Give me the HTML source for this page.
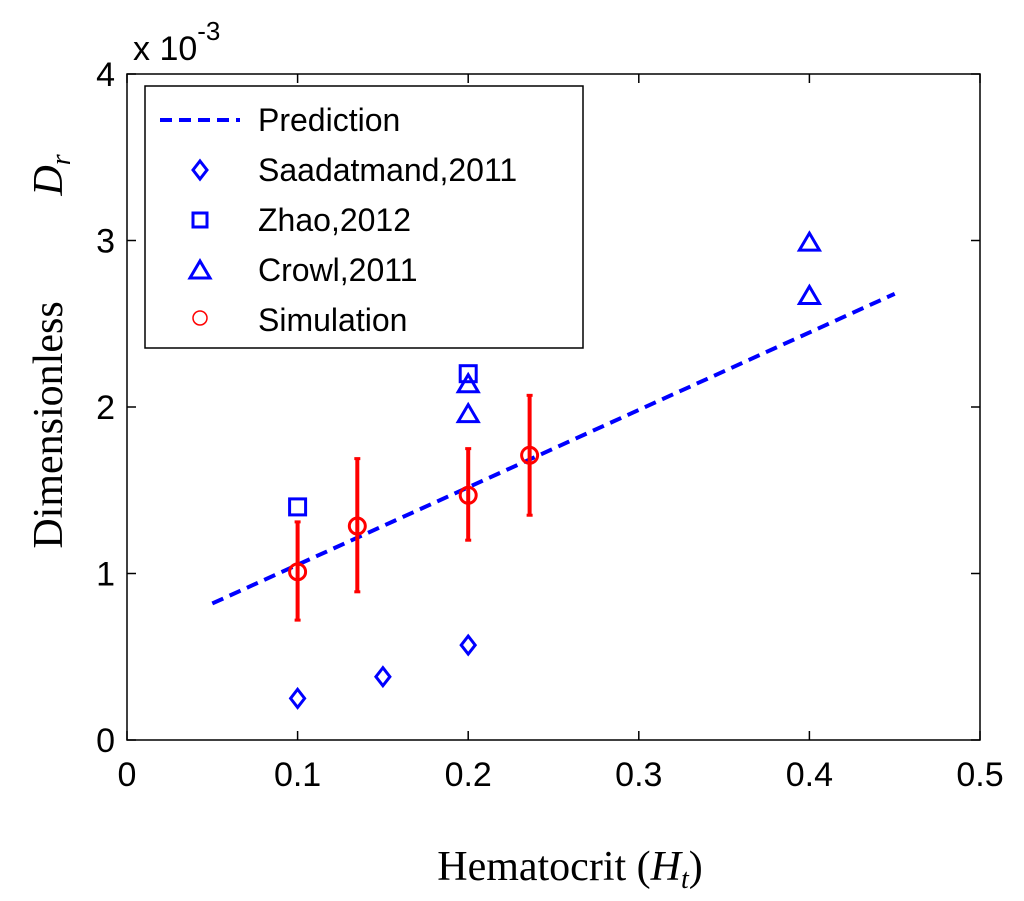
<!DOCTYPE html>
<html><head><meta charset="utf-8"><style>
body{margin:0;background:#fff;}
svg{display:block;}
</style></head><body>
<svg id="chart" width="1024" height="901" xmlns="http://www.w3.org/2000/svg">
<rect width="1024" height="901" fill="#fff"/>
<g id="plot"></g>
</svg>
<script>
const xTicks=[0,0.1,0.2,0.3,0.4,0.5];
const xTickLabels=["0","0.1","0.2","0.3","0.4","0.5"];
const yTicks=[0,1,2,3,4];
const yTickLabels=["0","1","2","3","4"];
const predX=[0.05,0.45];
const predY=[0.82,2.68];
const saadX=[0.1,0.15,0.2];
const saadY=[0.25,0.38,0.57];
const zhaoX=[0.1,0.2];
const zhaoY=[1.40,2.20];
const crowlX=[0.2,0.2,0.4,0.4];
const crowlY=[2.14,1.96,2.99,2.67];
const simX=[0.1,0.135,0.2,0.236];
const simY=[1.01,1.285,1.47,1.71];
const simLo=[0.72,0.89,1.20,1.35];
const simHi=[1.31,1.69,1.75,2.07];

const L=127,R=980,T=74,B=740;
const xs=v=>L+(v-0)/(0.5)*(R-L);
const ys=v=>B-(v/4)*(B-T);
const NS="http://www.w3.org/2000/svg";
const g=document.getElementById('plot');
function mk(tag,attrs,parent){const e=document.createElementNS(NS,tag);for(const k in attrs)e.setAttribute(k,attrs[k]);(parent||g).appendChild(e);return e;}

let box=mk('rect',{x:L,y:T,width:R-L,height:B-T,fill:'none',stroke:'#000','stroke-width':1.5});



xTicks.forEach((v,i)=>{
  const x=xs(v);
  let t=mk('line',{x1:x,y1:B,x2:x,y2:B-9,stroke:'#000','stroke-width':1.5});
  
  
  let t2=mk('line',{x1:x,y1:T,x2:x,y2:T+9,stroke:'#000','stroke-width':1.5});
  
  
  let lb=mk('text',{x:x,y:B+46,'font-family':'Liberation Sans, sans-serif','font-size':34,'text-anchor':'middle'});
  lb.textContent=xTickLabels[i];
  
  
});
yTicks.forEach((v,i)=>{
  const y=ys(v);
  let t=mk('line',{x1:L,y1:y,x2:L+9,y2:y,stroke:'#000','stroke-width':1.5});
  
  
  let t2=mk('line',{x1:R,y1:y,x2:R-9,y2:y,stroke:'#000','stroke-width':1.5});
  
  
  let lb=mk('text',{x:L-12,y:y+12,'font-family':'Liberation Sans, sans-serif','font-size':34,'text-anchor':'end'});
  lb.textContent=yTickLabels[i];
  
  
});

let pl=mk('line',{x1:xs(predX[0]),y1:ys(predY[0]),x2:xs(predX[1]),y2:ys(predY[1]),stroke:'#0000ff','stroke-width':4,'stroke-dasharray':'12,7'});



saadX.forEach((v,i)=>{const x=xs(v),y=ys(saadY[i]);
  let p=mk('polygon',{points:`${x},${y-9} ${x+7},${y} ${x},${y+9} ${x-7},${y}`,fill:'none',stroke:'#0000ff','stroke-width':3});
  
  });
zhaoX.forEach((v,i)=>{const x=xs(v),y=ys(zhaoY[i]);
  let p=mk('rect',{x:x-8,y:y-8,width:16,height:16,fill:'none',stroke:'#0000ff','stroke-width':3});
  
  });
crowlX.forEach((v,i)=>{const x=xs(v),y=ys(crowlY[i]);
  let p=mk('polygon',{points:`${x},${y-9} ${x+10},${y+8} ${x-10},${y+8}`,fill:'none',stroke:'#0000ff','stroke-width':3});
  
  });
simX.forEach((v,i)=>{const x=xs(v);
  let e=mk('line',{x1:x,y1:ys(simLo[i]),x2:x,y2:ys(simHi[i]),stroke:'#ff0000','stroke-width':4});
  
  
  [simLo[i],simHi[i]].forEach(w=>{let c=mk('line',{x1:x-3,y1:ys(w),x2:x+3,y2:ys(w),stroke:'#ff0000','stroke-width':3});
    
    });
  let p=mk('circle',{cx:x,cy:ys(simY[i]),r:8,fill:'none',stroke:'#ff0000','stroke-width':3});
  
  });

// legend
const lg=mk('g',{});


mk('rect',{x:145,y:86,width:438,height:262,fill:'#fff',stroke:'#000','stroke-width':1.5},lg);
const items=["Prediction","Saadatmand,2011","Zhao,2012","Crowl,2011","Simulation"];
items.forEach((s,i)=>{const y=120+i*50;const cx=200;
  if(i==0)mk('line',{x1:160,y1:y,x2:240,y2:y,stroke:'#0000ff','stroke-width':4,'stroke-dasharray':'12,7'},lg);
  if(i==1)mk('polygon',{points:`${cx},${y-9} ${cx+7},${y} ${cx},${y+9} ${cx-7},${y}`,fill:'none',stroke:'#0000ff','stroke-width':3},lg);
  if(i==2)mk('rect',{x:cx-7,y:y-7,width:14,height:14,fill:'none',stroke:'#0000ff','stroke-width':3},lg);
  if(i==3)mk('polygon',{points:`${cx},${y-9} ${cx+10},${y+8} ${cx-10},${y+8}`,fill:'none',stroke:'#0000ff','stroke-width':3},lg);
  if(i==4)mk('circle',{cx:cx,cy:y-2,r:7,fill:'none',stroke:'#ff0000','stroke-width':1.5},lg);
  let t=mk('text',{x:258,y:y+11,'font-family':'Liberation Sans, sans-serif','font-size':32},lg);
  t.textContent=s;
  
  
});
</script>
<svg style="position:absolute;left:0;top:0" width="1024" height="901" xmlns="http://www.w3.org/2000/svg">
<text x="133" y="60" font-family="Liberation Sans, sans-serif" font-size="34">x 10<tspan dy="-20" font-size="26">-3</tspan></text>
<text x="570" y="880" font-family="Liberation Serif, serif" font-size="42" text-anchor="middle">Hematocrit (<tspan font-style="italic">H</tspan><tspan font-style="italic" font-size="28" dy="8">t</tspan><tspan dy="-8">)</tspan></text>
<text transform="translate(62,425) rotate(-90)" font-family="Liberation Serif, serif" font-size="42" text-anchor="middle">Dimensionless</text>
<text transform="translate(62,175) rotate(-90)" font-family="Liberation Serif, serif" font-size="42" text-anchor="middle" font-style="italic">D<tspan font-size="28" dy="8">r</tspan></text>
</svg>
</body></html>
